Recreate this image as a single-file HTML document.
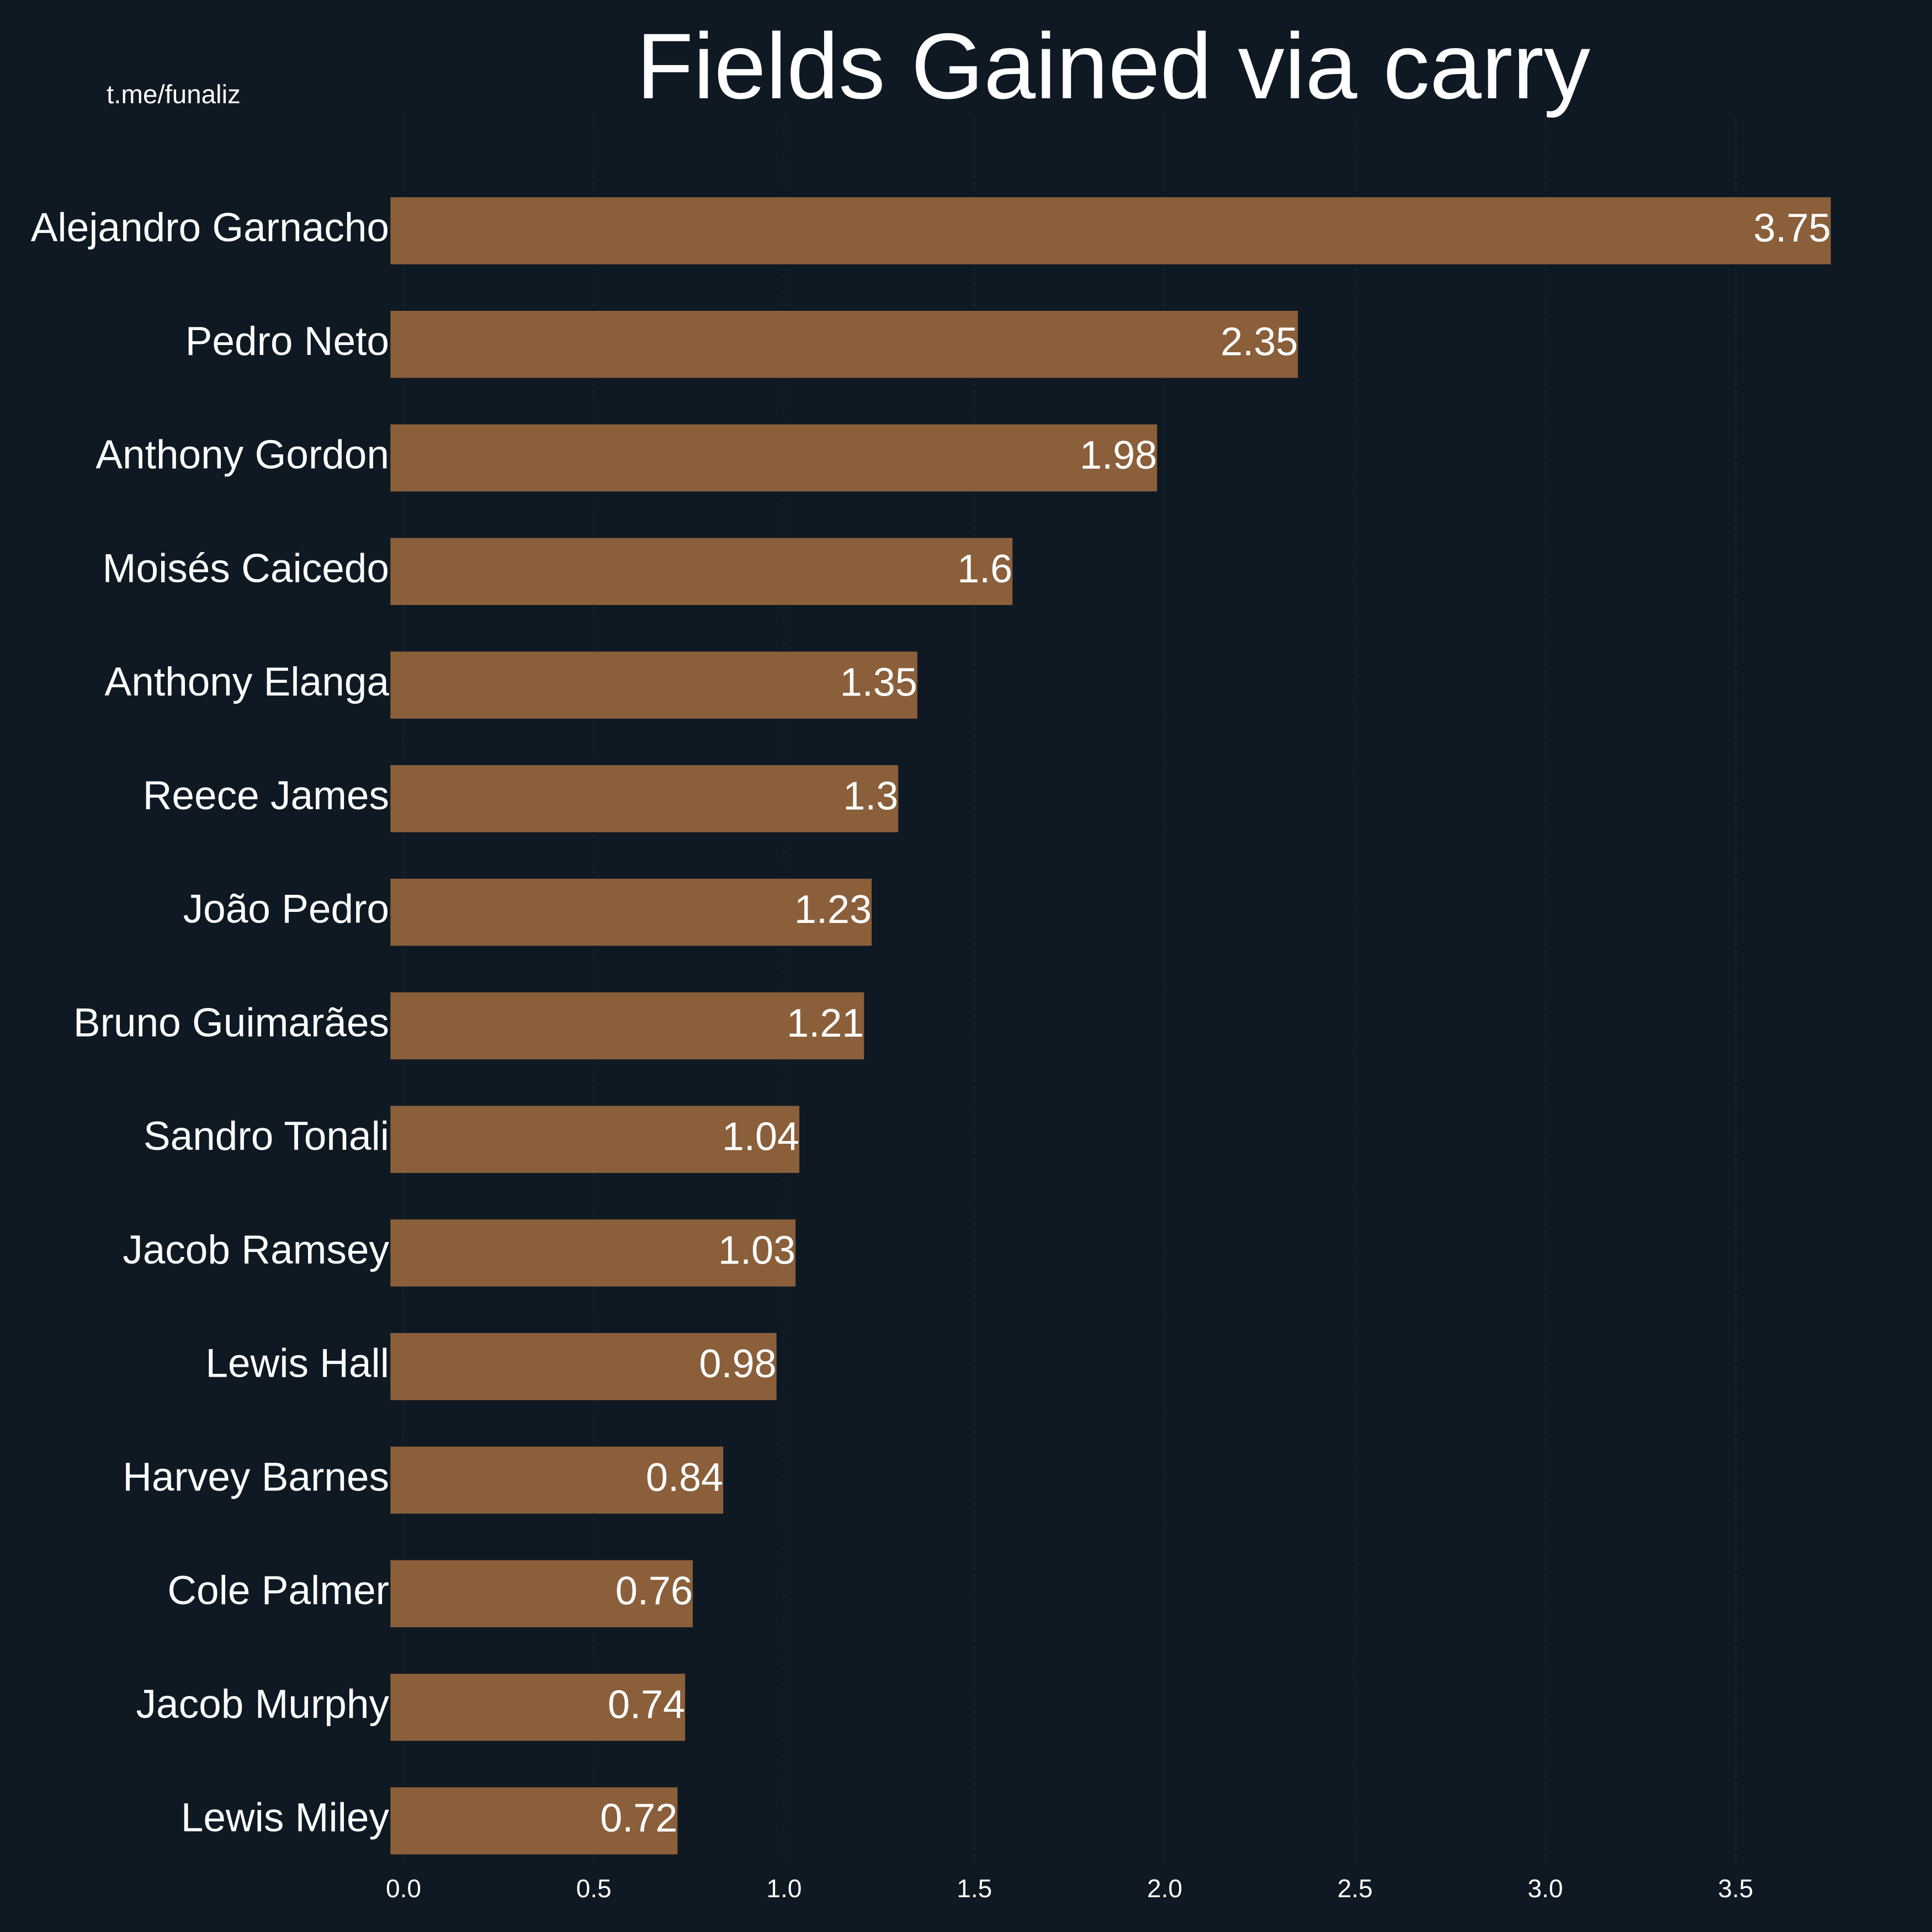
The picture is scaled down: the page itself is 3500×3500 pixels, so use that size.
<!DOCTYPE html>
<html><head><meta charset="utf-8"><style>
html,body{margin:0;padding:0;background:#0f1923;}
svg{display:block;}
text{font-family:"Liberation Sans",Arial,sans-serif;fill:#ffffff;}
</style></head><body>
<svg width="3500" height="3500" viewBox="0 0 3500 3500" xmlns="http://www.w3.org/2000/svg">
<rect width="3500" height="3500" fill="#0f1923"/>
<g stroke="#ffffff" stroke-opacity="0.06" stroke-width="2.5" stroke-dasharray="5,8">
<line x1="731" y1="213" x2="731" y2="3385"/>
<line x1="1075.75" y1="213" x2="1075.75" y2="3385"/>
<line x1="1420.5" y1="213" x2="1420.5" y2="3385"/>
<line x1="1765.25" y1="213" x2="1765.25" y2="3385"/>
<line x1="2110" y1="213" x2="2110" y2="3385"/>
<line x1="2454.75" y1="213" x2="2454.75" y2="3385"/>
<line x1="2799.5" y1="213" x2="2799.5" y2="3385"/>
<line x1="3144.25" y1="213" x2="3144.25" y2="3385"/>
</g>
<text x="2017" y="178" font-size="169" text-anchor="middle">Fields Gained via carry</text>
<text x="193" y="187" font-size="47.5">t.me/funaliz</text>
<g fill="#8a5f3a">
<rect x="707.3" y="357.3" width="2609.3" height="121.5"/>
<rect x="707.3" y="563.06" width="1644.0" height="121.5"/>
<rect x="707.3" y="768.82" width="1388.9" height="121.5"/>
<rect x="707.3" y="974.58" width="1126.9" height="121.5"/>
<rect x="707.3" y="1180.34" width="954.5" height="121.5"/>
<rect x="707.3" y="1386.1" width="920.0" height="121.5"/>
<rect x="707.3" y="1591.86" width="871.8" height="121.5"/>
<rect x="707.3" y="1797.62" width="858.0" height="121.5"/>
<rect x="707.3" y="2003.38" width="740.8" height="121.5"/>
<rect x="707.3" y="2209.14" width="733.9" height="121.5"/>
<rect x="707.3" y="2414.9" width="699.4" height="121.5"/>
<rect x="707.3" y="2620.66" width="602.9" height="121.5"/>
<rect x="707.3" y="2826.42" width="547.7" height="121.5"/>
<rect x="707.3" y="3032.18" width="533.9" height="121.5"/>
<rect x="707.3" y="3237.94" width="520.1" height="121.5"/>
</g>
<g font-size="73" text-anchor="end">
<text x="705" y="437">Alejandro Garnacho</text>
<text x="705" y="642.8">Pedro Neto</text>
<text x="705" y="848.5">Anthony Gordon</text>
<text x="705" y="1054.3">Moisés Caicedo</text>
<text x="705" y="1260">Anthony Elanga</text>
<text x="705" y="1465.8">Reece James</text>
<text x="705" y="1671.6">João Pedro</text>
<text x="705" y="1877.3">Bruno Guimarães</text>
<text x="705" y="2083.1">Sandro Tonali</text>
<text x="705" y="2288.8">Jacob Ramsey</text>
<text x="705" y="2494.6">Lewis Hall</text>
<text x="705" y="2700.4">Harvey Barnes</text>
<text x="705" y="2906.1">Cole Palmer</text>
<text x="705" y="3111.9">Jacob Murphy</text>
<text x="705" y="3317.6">Lewis Miley</text>
</g>
<g font-size="72" text-anchor="end">
<text x="3316.6" y="437.5">3.75</text>
<text x="2351.3" y="643.3">2.35</text>
<text x="2096.2" y="849">1.98</text>
<text x="1834.2" y="1054.8">1.6</text>
<text x="1661.8" y="1260.5">1.35</text>
<text x="1627.3" y="1466.3">1.3</text>
<text x="1579.1" y="1672.1">1.23</text>
<text x="1565.3" y="1877.8">1.21</text>
<text x="1448.1" y="2083.6">1.04</text>
<text x="1441.2" y="2289.3">1.03</text>
<text x="1406.7" y="2495.1">0.98</text>
<text x="1310.2" y="2700.9">0.84</text>
<text x="1255" y="2906.6">0.76</text>
<text x="1241.2" y="3112.4">0.74</text>
<text x="1227.4" y="3318.1">0.72</text>
</g>
<g font-size="46" text-anchor="middle">
<text x="731" y="3437">0.0</text>
<text x="1075.75" y="3437">0.5</text>
<text x="1420.5" y="3437">1.0</text>
<text x="1765.25" y="3437">1.5</text>
<text x="2110" y="3437">2.0</text>
<text x="2454.75" y="3437">2.5</text>
<text x="2799.5" y="3437">3.0</text>
<text x="3144.25" y="3437">3.5</text>
</g>
</svg>
</body></html>
